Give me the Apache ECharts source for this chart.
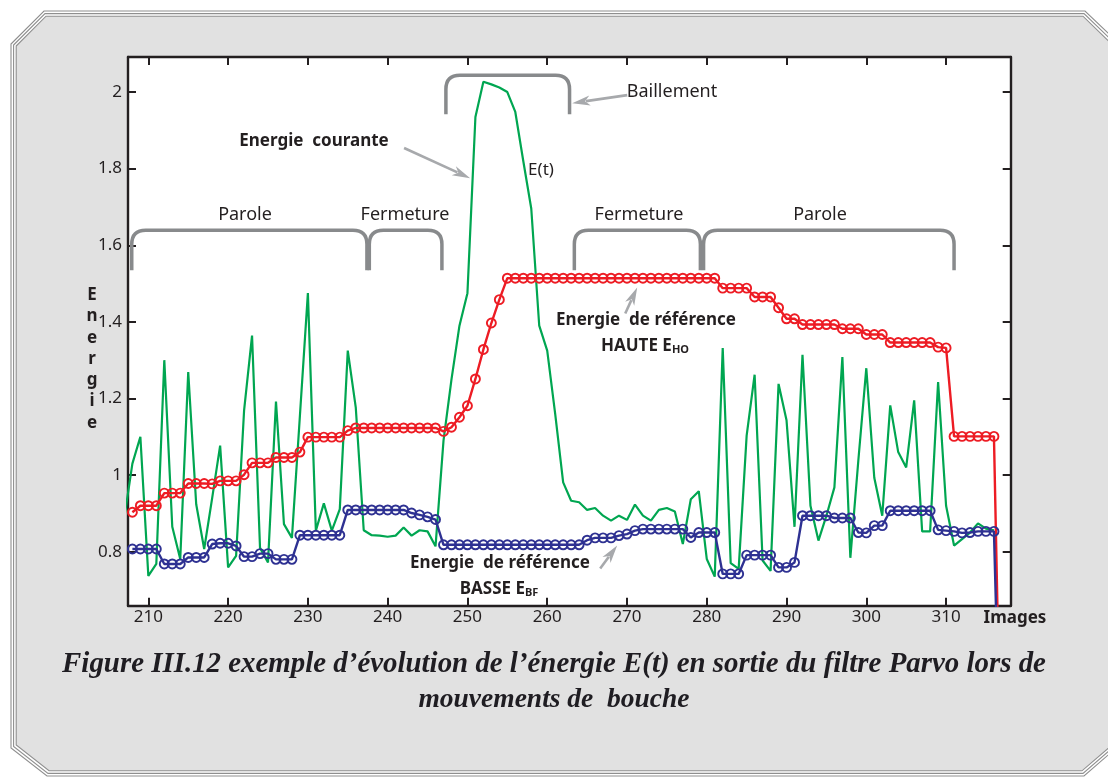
<!DOCTYPE html>
<html><head><meta charset="utf-8">
<script src="https://cdn.jsdelivr.net/npm/echarts@6/dist/echarts.min.js"></script>
<style>html,body{margin:0;padding:0;background:#fff}#c{width:1108px;height:778px}</style>
</head><body><div id="c"></div>
<script>
// ---- data ----
const xTicks = [210, 220, 230, 240, 250, 260, 270, 280, 290, 300, 310];
const yTicks = [0.8, 1, 1.2, 1.4, 1.6, 1.8, 2];

const firstImageCourante = 207;
const energieCourante = [
  0.89, 1.03, 1.10, 0.737, 0.768, 1.30, 0.865, 0.781, 1.269, 0.924,
  0.807, 0.94, 1.077, 0.759, 0.789, 1.168, 1.364, 0.81, 0.772, 1.192,
  0.872, 0.836, 1.155, 1.475, 0.855, 0.926, 0.855, 0.911, 1.325, 1.177,
  0.856, 0.843, 0.842, 0.839, 0.842, 0.863, 0.842, 0.856, 0.853, 0.814,
  1.09, 1.25, 1.39, 1.475, 1.935, 2.027, 2.02, 2.012, 2.0, 1.948,
  1.82, 1.696, 1.39, 1.325, 1.16, 0.981, 0.933, 0.929, 0.909, 0.914,
  0.894, 0.881, 0.894, 0.883, 0.923, 0.894, 0.881, 0.909, 0.914, 0.905,
  0.82, 0.937, 0.958, 0.781, 0.735, 1.332, 0.770, 0.755, 1.103, 1.262,
  0.777, 0.750, 1.238, 1.143, 0.865, 1.314, 0.920, 0.829, 0.894, 0.968,
  1.308, 0.784, 1.038, 1.279, 0.993, 0.894, 1.182, 1.060, 1.020, 1.195,
  0.853, 0.853, 1.243, 0.920, 0.816, 0.833, 0.850, 0.874, 0.860, 0.856
];

const firstImageRef = 208;
const energieHaute = [
  0.903, 0.920, 0.920, 0.920, 0.953, 0.953, 0.953, 0.978, 0.978, 0.978,
  0.977, 0.985, 0.985, 0.985, 1.001, 1.032, 1.032, 1.032, 1.046, 1.046,
  1.046, 1.060, 1.099, 1.099, 1.099, 1.099, 1.099, 1.116, 1.123, 1.123,
  1.123, 1.123, 1.123, 1.123, 1.123, 1.123, 1.123, 1.123, 1.123, 1.114,
  1.125, 1.151, 1.181, 1.251, 1.328, 1.397, 1.458, 1.514, 1.514, 1.514,
  1.514, 1.514, 1.514, 1.514, 1.514, 1.514, 1.514, 1.514, 1.514, 1.514,
  1.514, 1.514, 1.514, 1.514, 1.514, 1.514, 1.514, 1.514, 1.514, 1.514,
  1.514, 1.514, 1.514, 1.514, 1.488, 1.488, 1.488, 1.488, 1.465, 1.465,
  1.465, 1.437, 1.408, 1.408, 1.393, 1.393, 1.393, 1.393, 1.393, 1.382,
  1.382, 1.382, 1.367, 1.367, 1.367, 1.346, 1.346, 1.346, 1.346, 1.346,
  1.346, 1.334, 1.332, 1.101, 1.101, 1.101, 1.101, 1.101, 1.101, 0.08
];
const energieBasse = [
  0.807, 0.807, 0.807, 0.807, 0.768, 0.768, 0.768, 0.785, 0.785, 0.785,
  0.820, 0.822, 0.822, 0.815, 0.787, 0.787, 0.795, 0.795, 0.780, 0.780,
  0.780, 0.843, 0.843, 0.843, 0.843, 0.843, 0.843, 0.909, 0.909, 0.909,
  0.909, 0.909, 0.909, 0.909, 0.909, 0.901, 0.896, 0.891, 0.884, 0.818,
  0.818, 0.818, 0.818, 0.818, 0.818, 0.818, 0.818, 0.818, 0.818, 0.818,
  0.818, 0.818, 0.818, 0.818, 0.818, 0.818, 0.818, 0.830, 0.836, 0.836,
  0.836, 0.842, 0.846, 0.855, 0.859, 0.859, 0.859, 0.859, 0.859, 0.859,
  0.837, 0.850, 0.850, 0.850, 0.742, 0.742, 0.742, 0.791, 0.791, 0.791,
  0.791, 0.759, 0.759, 0.772, 0.894, 0.894, 0.894, 0.894, 0.888, 0.888,
  0.888, 0.850, 0.849, 0.868, 0.868, 0.907, 0.907, 0.907, 0.907, 0.907,
  0.907, 0.857, 0.855, 0.853, 0.849, 0.850, 0.853, 0.853, 0.853, 0.08
];

// bracket annotations: [image left, image right, energy top, energy bottom]
const brackets = [
  [207.92, 237.4, 1.639, 1.535],
  [237.7, 246.8, 1.639, 1.535],
  [263.4, 279.2, 1.639, 1.535],
  [279.6, 311.0, 1.639, 1.535],
  [247.3, 262.8, 2.044, 1.942]
];
// arrows: [tail image, tail energy, tip image, tip energy]
const arrows = [
  [242.06, 1.854, 250.34, 1.775],
  [270.03, 1.992, 263.13, 1.971],
  [269.78, 1.422, 271.28, 1.490],
  [266.64, 0.756, 268.77, 0.816]
];

// ---- chart ----
const pairs = (first, arr) => arr.map((v, i) => [first + i, v]);
const INK = '#231f20';
const SANS = '"Noto Sans", "Open Sans", sans-serif';
const SERIF1 = 'italic bold 28.9px "Liberation Serif", "DejaVu Serif", serif';
const SERIF2 = 'italic bold 27.5px "Liberation Serif", "DejaVu Serif", serif';

function renderBracket(params, api) {
  const a = api.coord([api.value(0), api.value(2)]);
  const b = api.coord([api.value(1), api.value(3)]);
  const x1 = a[0], x2 = b[0], yt = a[1], yb = b[1], r = 14;
  return {
    type: 'path',
    shape: { pathData: `M${x1} ${yb} L${x1} ${yt + r} Q${x1} ${yt} ${x1 + r} ${yt} L${x2 - r} ${yt} Q${x2} ${yt} ${x2} ${yt + r} L${x2} ${yb}` },
    style: { fill: 'none', stroke: '#888a8c', lineWidth: 3.5 }
  };
}
function renderArrow(params, api) {
  const p = api.coord([api.value(0), api.value(1)]);
  const q = api.coord([api.value(2), api.value(3)]);
  const dx = q[0] - p[0], dy = q[1] - p[1];
  const len = Math.hypot(dx, dy), ux = dx / len, uy = dy / len;
  const hl = 18, hw = 5;
  const bx = q[0] - ux * hl, by = q[1] - uy * hl;
  const nx = -uy, ny = ux;
  return {
    type: 'group',
    children: [
      { type: 'line', shape: { x1: p[0], y1: p[1], x2: bx + ux * 4, y2: by + uy * 4 }, style: { stroke: '#a7a9ac', lineWidth: 2.6 } },
      { type: 'polygon', shape: { points: [[q[0], q[1]], [bx + nx * hw, by + ny * hw], [bx + ux * 5, by + uy * 5], [bx - nx * hw, by - ny * hw]] }, style: { fill: '#a7a9ac' } }
    ]
  };
}

const outer = [[11,44],[44,11],[1085,11],[1130,54],[1130,736],[1084,776],[47,776],[11,748]];
const mid = [[13.6,45],[45,13.6],[1084,13.6],[1127.4,55.5],[1127.4,735],[1083,773.4],[48,773.4],[13.6,746.5]];
const inner = [[16.2,46],[46,16.2],[1083,16.2],[1124.8,57],[1124.8,734],[1082,770.8],[49,770.8],[16.2,745]];

function txt(text, x, y, font, extra) {
  return {
    type: 'text', z: 100, x: x, y: y,
    style: Object.assign({ text: text, fill: INK, font: font, textAlign: 'center', textVerticalAlign: 'middle', align: 'center', verticalAlign: 'middle' }, extra || {})
  };
}

const xAxisBase = {
  type: 'value', min: 207.45, max: 318.1, z: 1,
  axisLine: { show: true, onZero: false, lineStyle: { color: INK, width: 2.4 } },
  axisTick: { show: true, inside: true, length: 8, customValues: xTicks, lineStyle: { color: INK, width: 2 } },
  splitLine: { show: false }
};
const yAxisBase = {
  type: 'value', min: 0.659, max: 2.0915, z: 1,
  axisLine: { show: true, onZero: false, lineStyle: { color: INK, width: 2.4 } },
  axisTick: { show: true, inside: true, length: 8, customValues: yTicks, lineStyle: { color: INK, width: 2 } },
  splitLine: { show: false }
};

const option = {
  animation: false,
  backgroundColor: '#ffffff',
  grid: { left: 128, top: 57, width: 882.7, height: 548.7, show: true, backgroundColor: '#ffffff', borderWidth: 0 },
  xAxis: [
    Object.assign({}, xAxisBase, { position: 'bottom', axisLabel: { customValues: xTicks, margin: 3, color: INK, fontSize: 17, fontFamily: SANS } }),
    Object.assign({}, xAxisBase, { position: 'top', axisLabel: { show: false } })
  ],
  yAxis: [
    Object.assign({}, yAxisBase, { position: 'left', axisLabel: { customValues: yTicks, margin: 6, color: INK, fontSize: 17, fontFamily: SANS } }),
    Object.assign({}, yAxisBase, { position: 'right', axisLabel: { show: false } })
  ],
  graphic: [
    { type: 'polygon', z: -10, shape: { points: outer }, style: { fill: '#ffffff', stroke: '#8f8f8f', lineWidth: 1.1 } },
    { type: 'polygon', z: -9, shape: { points: mid }, style: { fill: 'none', stroke: '#8f8f8f', lineWidth: 1.1 } },
    { type: 'polygon', z: -8, shape: { points: inner }, style: { fill: '#e1e1e1', stroke: '#8f8f8f', lineWidth: 1.1 } },
    txt('Parole', 245, 215, '18px ' + SANS),
    txt('Fermeture', 405, 215, '18px ' + SANS),
    txt('Fermeture', 639, 215, '18px ' + SANS),
    txt('Parole', 820, 215, '18px ' + SANS),
    txt('Baillement', 672, 92, '18px ' + SANS),
    txt('E(t)', 541, 170, '17px ' + SANS),
    txt('Energie  courante', 314, 141, 'bold 17px ' + SANS),
    txt('Energie  de référence', 646, 320, 'bold 17px ' + SANS),
    txt('{m|HAUTE E}{s|HO}', 645, 345, 'bold 17px ' + SANS, { rich: { m: { font: 'bold 17px ' + SANS, fill: INK, verticalAlign: 'bottom', lineHeight: 20 }, s: { font: 'bold 11px ' + SANS, fill: INK, verticalAlign: 'bottom', lineHeight: 20 } } }),
    txt('Energie  de référence', 500, 563, 'bold 17px ' + SANS),
    txt('{m|BASSE E}{s|BF}', 499, 588, 'bold 17px ' + SANS, { rich: { m: { font: 'bold 17px ' + SANS, fill: INK, verticalAlign: 'bottom', lineHeight: 20 }, s: { font: 'bold 11px ' + SANS, fill: INK, verticalAlign: 'bottom', lineHeight: 20 } } }),
    txt('Images', 1015, 618, 'bold 17px ' + SANS),
    txt('E\nn\ne\nr\ng\ni\ne', 92, 359, 'bold 17px ' + SANS, { lineHeight: 21.3 }),
    txt('Figure III.12 exemple d\u2019évolution de l\u2019énergie E(t) en sortie du filtre Parvo lors de', 554, 665, SERIF1, { fill: '#1f1d22' }),
    txt('mouvements de  bouche', 554, 700, SERIF2, { fill: '#1f1d22' })
  ],
  series: [
    {
      type: 'line', name: 'E(t)', data: pairs(firstImageCourante, energieCourante),
      showSymbol: false, symbol: 'none', z: 2,
      lineStyle: { color: '#00a651', width: 2.2 }, itemStyle: { color: '#00a651' }
    },
    {
      type: 'line', name: 'EHO', data: pairs(firstImageRef, energieHaute),
      symbol: 'circle', symbolSize: 9, showSymbol: true, z: 3,
      lineStyle: { color: '#ed1c24', width: 2.4 },
      itemStyle: { color: 'rgba(255,255,255,0)', borderColor: '#ed1c24', borderWidth: 1.9 }
    },
    {
      type: 'line', name: 'EBF', data: pairs(firstImageRef, energieBasse),
      symbol: 'circle', symbolSize: 9, showSymbol: true, z: 4,
      lineStyle: { color: '#2e3192', width: 2.4 },
      itemStyle: { color: 'rgba(255,255,255,0)', borderColor: '#2e3192', borderWidth: 1.9 }
    },
    {
      type: 'custom', name: 'accolades', data: brackets, renderItem: renderBracket,
      encode: { x: [0, 1], y: [2, 3] }, clip: false, silent: true, z: 5
    },
    {
      type: 'custom', name: 'fleches', data: arrows, renderItem: renderArrow,
      encode: { x: [0, 2], y: [1, 3] }, clip: false, silent: true, z: 6
    }
  ]
};

const chart = echarts.init(document.getElementById('c'), null, { renderer: 'canvas' });
chart.setOption(option);
</script>
</body></html>
